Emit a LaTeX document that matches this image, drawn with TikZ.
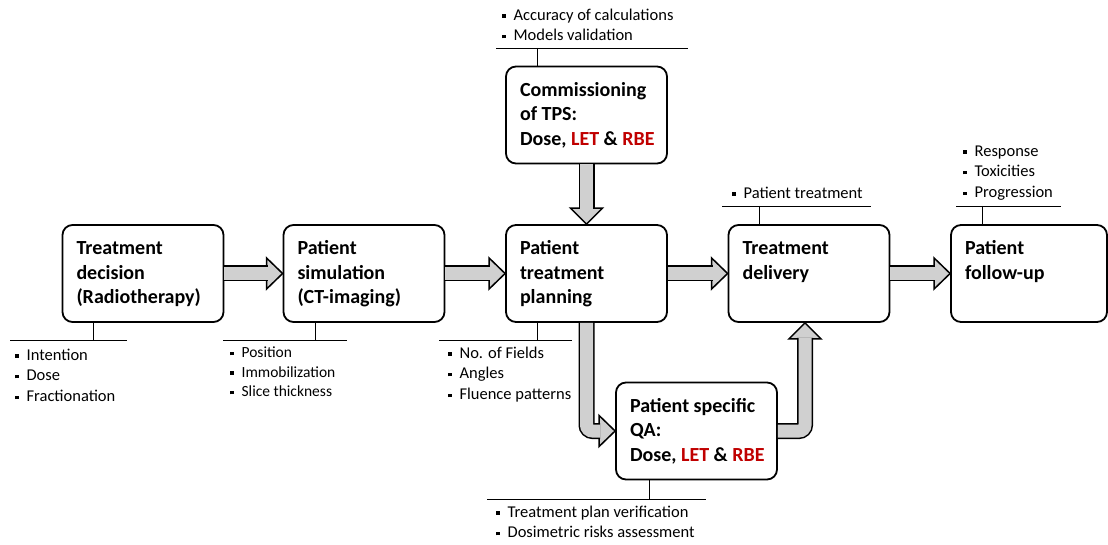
\documentclass[tikz,border=0pt]{standalone}
\usepackage{fontspec}
\setmainfont{Carlito}
\usetikzlibrary{calc}
\definecolor{arrfill}{RGB}{208,208,208}
\definecolor{darkred}{RGB}{192,0,0}
\newcommand{\boxtxt}[2][133pt]{\parbox[t][72pt][t]{#1}{\begin{tabular}[t]{@{}l@{}}#2\end{tabular}}}
\newcommand{\bul}{\strut\raisebox{2.6pt}{\rule{3.4pt}{3.4pt}}\hspace{8pt}}
\newcommand{\redtxt}[1]{\textcolor{darkred}{#1}}

\begin{document}
\begin{tikzpicture}[x=1pt, y=1pt,
  stage/.style={draw, line width=1.8pt, rounded corners=10pt, minimum width=161pt,
                minimum height=97pt, inner xsep=14pt, inner ysep=12.5pt,
                font=\fontsize{20}{24.5}\selectfont\bfseries},
  note/.style={anchor=north west, inner sep=0pt, align=left,
               font=\fontsize{16.5}{20.8}\selectfont},
  tick/.style={line width=0.9pt},
  shaft/.style={line width=1.5pt, double=arrfill, double distance=13pt, rounded corners=6pt},
  head/.style={fill=arrfill, draw, line width=1.5pt, line join=miter}
]
\useasboundingbox (0,0) rectangle (1108,-545);

\node[stage] (td)   at (143,-273.5)   {\boxtxt{Treatment\\decision\\(Radiotherapy)}};
\node[stage] (sim)  at (364,-273.5)   {\boxtxt{Patient\\simulation\\(CT-imaging)}};
\node[stage] (tpl)  at (586.5,-273.5) {\boxtxt{Patient\\treatment\\planning}};
\node[stage] (tdel) at (809,-273.5)   {\boxtxt{Treatment\\delivery}};
\node[stage, minimum width=156pt] (fup) at (1029,-273.5) {\boxtxt[128pt]{Patient\\follow-up}};
\node[stage] (tps)  at (586.5,-115)   {\boxtxt{Commissioning\\of TPS:\\Dose, \redtxt{LET} \& \redtxt{RBE}}};
\node[stage] (qa)   at (696.5,-431)   {\boxtxt{Patient specific\\QA:\\Dose, \redtxt{LET} \& \redtxt{RBE}}};

\node[note] (tdn) at (15,-345.4) {\bul Intention\\\bul Dose\\\bul Fractionation};
\node[note, font=\fontsize{15.5}{19.5}\selectfont] (simn) at (230,-344)
  {\bul Position\\\bul Immobilization\\\bul Slice thickness};
\node[note] (tpln)  at (448,-343.4) {\bul No. of Fields\\\bul Angles\\\bul Fluence patterns};
\node[note] (qan)   at (496,-502.4) {\bul Treatment plan verification\\\bul Dosimetric risks assessment};
\node[note] (tpsn)  at (502,-5.4)   {\bul Accuracy of calculations\\\bul Models validation};
\node[note] (tdeln) at (732,-183.4) {\bul Patient treatment};
\node[note] (fupn)  at (963,-141.4) {\bul Response\\\bul Toxicities\\\bul Progression};

\foreach \n/\x/\y/\l/\r in {td.south/93/-340/10/127, sim.south/315/-340/223/347,
    tpl.south/537/-340/439/572, qa.south/649/-499/487/706, tps.north/537/-48/496/688,
    tdel.north/759/-206/722/871, fup.north/982/-206/956/1061}
  \draw[tick] (\l,\y) -- (\r,\y) (\x,\y) -- (\n -| \x,0);

\foreach \a/\b in {td/sim, sim/tpl, tpl/tdel, tdel/fup}{
  \draw[head] ($(\b.west)+(-16,15.5)$) -- (\b.west) -- ($(\b.west)+(-16,-15.5)$) -- cycle;
  \draw[shaft] (\a.east) -- ($(\b.west)+(-15,0)$);
}

\draw[head] ($(tpl.north)+(-16,16)$) -- (tpl.north) -- ($(tpl.north)+(16,16)$) -- cycle;
\draw[shaft] (tps.south) -- ($(tpl.north)+(0,15)$);

\draw[head] ($(qa.west)+(-16,15.5)$) -- (qa.west) -- ($(qa.west)+(-16,-15.5)$) -- cycle;
\draw[shaft] (tpl.south) -- (tpl.south |- qa.west) -- ($(qa.west)+(-15,0)$);

\coordinate (up) at ($(tdel.south)+(-4,0)$);
\draw[head] ($(up)+(-16,-16)$) -- (up) -- ($(up)+(16,-16)$) -- cycle;
\draw[shaft] (qa.east) -- (qa.east -| up) -- ($(up)+(0,-15)$);
\end{tikzpicture}
\end{document}
